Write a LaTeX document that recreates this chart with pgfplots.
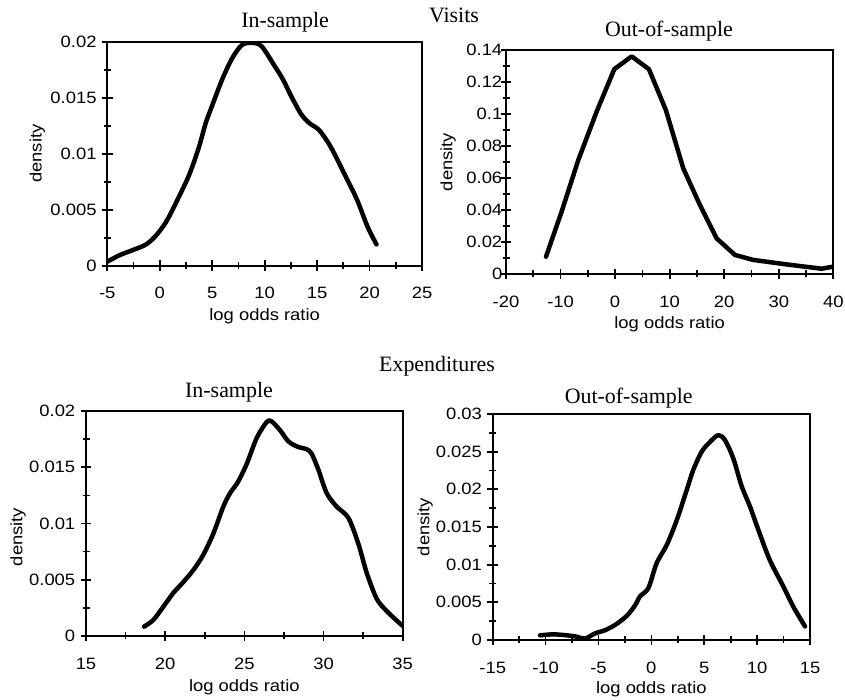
\documentclass[border=0pt]{standalone}
\usepackage{fontspec}
\setmainfont{Liberation Serif}
\newfontfamily\labelfont[FakeStretch=1.12]{Liberation Sans}
\usepackage{pgfplots}
\pgfplotsset{compat=1.18}

\pgfplotsset{
  densitypanel/.style={
    scale only axis,
    anchor=south west,
    axis line style={line width=1.7bp},
    every tick/.style={black, line width=1.7bp},
    tick align=center,
    xtick pos=bottom, ytick pos=left,
    major tick length=10.5bp, minor tick length=7bp,
    minor x tick num=1, minor y tick num=1,
    scaled y ticks=false, scaled x ticks=false,
    ticklabel style={font=\labelfont\fontsize{16.5}{19}\selectfont},
    label style={font=\labelfont\fontsize{16.5}{19}\selectfont},
    title style={font=\fontsize{22}{26}\selectfont, anchor=base, yshift=-6bp},
    xticklabel style={anchor=base, yshift=-28bp},
    yticklabel style={anchor=east, xshift=-2bp},
    xlabel={log odds ratio}, ylabel={density},
  },
  curve/.style={black, line width=4.5bp, mark=none, line join=round, line cap=round},
}

\begin{document}
\begin{tikzpicture}[x=1bp,y=1bp]
\path[use as bounding box] (0,0) rectangle (845,700);

% Visits, in-sample
\begin{axis}[densitypanel,
  at={(107.3bp,434.3bp)}, width=314.7bp, height=224bp,
  xmin=-5, xmax=25, ymin=0, ymax=0.02,
  xtick={-5,0,5,10,15,20,25}, xticklabels={-5,0,5,10,15,20,25},
  ytick={0,0.005,0.01,0.015,0.02}, yticklabels={0,0.005,0.01,0.015,0.02},
  title={In-sample}, title style={at={(axis description cs:0.565,1.0656)}},
  xlabel style={at={(axis description cs:0.5,-0.225)}, anchor=center},
  ylabel style={at={(axis description cs:-0.222,0.5)}, anchor=center},
]
\addplot[curve, smooth] coordinates {
(-5,0.00036) (-3.8,0.00095) (-2.55,0.0014) (-1.3,0.0019) (-0.35,0.0027)
(0.6,0.0039) (1.54,0.0056) (2.8,0.0081) (3.74,0.0106) (4.37,0.0127)
(5,0.0143) (5.94,0.0166) (6.89,0.0185) (7.83,0.0197) (8.77,0.0199)
(9.7,0.0196) (10.97,0.0178) (11.76,0.0166) (12.55,0.0151) (13.5,0.0135)
(14.3,0.0127) (15.2,0.0121) (16.3,0.0106) (17.6,0.0082) (18.8,0.0059)
(19.8,0.0035) (20.66,0.0019)
};
\end{axis}

% Visits, out-of-sample
\begin{axis}[densitypanel,
  at={(506bp,426bp)}, width=327.3bp, height=224bp,
  xmin=-20, xmax=40, ymin=0, ymax=0.14,
  xtick={-20,-10,0,10,20,30,40}, xticklabels={-20,-10,0,10,20,30,40},
  ytick={0,0.02,0.04,0.06,0.08,0.1,0.12,0.14},
  yticklabels={0,0.02,0.04,0.06,0.08,0.1,0.12,0.14},
  yticklabel style={xshift=7bp},
  title={Out-of-sample}, title style={at={(axis description cs:0.498,1.0625)}},
  xlabel style={at={(axis description cs:0.5,-0.223)}, anchor=center},
  ylabel style={at={(axis description cs:-0.177,0.5)}, anchor=center},
]
\addplot[curve] coordinates {
(-12.67,0.0108) (-9.8,0.039) (-6.74,0.0713) (-3.38,0.1015) (-0.15,0.128)
(3.03,0.136) (6.2,0.128) (9.3,0.1025) (12.5,0.066) (15.55,0.0431)
(18.6,0.0223) (21.97,0.0119) (25.3,0.0088) (31.4,0.006) (37.85,0.0033)
(40,0.0046)
};
\end{axis}

% Expenditures, in-sample
\begin{axis}[densitypanel,
  at={(86bp,64bp)}, width=316.7bp, height=225bp,
  xmin=15, xmax=35, ymin=0, ymax=0.02,
  xtick={15,20,25,30,35}, xticklabels={15,20,25,30,35},
  ytick={0,0.005,0.01,0.015,0.02}, yticklabels={0,0.005,0.01,0.015,0.02},
  title={In-sample}, title style={at={(axis description cs:0.4515,1.061)}},
  xlabel style={at={(axis description cs:0.5,-0.226)}, anchor=center},
  ylabel style={at={(axis description cs:-0.214,0.44)}, anchor=center},
]
\addplot[curve, smooth] coordinates {
(18.66,0.00083) (19.25,0.00142) (19.88,0.0026) (20.5,0.0038) (21.15,0.0048)
(21.8,0.0059) (22.4,0.0072) (23.04,0.0091) (23.67,0.0115) (24.1,0.0127)
(24.6,0.0137) (25.15,0.0153) (25.78,0.0176) (26.4,0.019) (26.7,0.0191)
(27.25,0.0183) (27.78,0.0173) (28.4,0.0168) (28.94,0.0166) (29.25,0.0162)
(29.67,0.0148) (30.2,0.0127) (30.83,0.0115) (31.57,0.0105) (32.2,0.0082)
(32.73,0.0056) (33.36,0.0033) (34,0.0022) (34.6,0.0014) (35,0.0009)
};
\end{axis}

% Expenditures, out-of-sample
\begin{axis}[densitypanel,
  at={(492.7bp,60bp)}, width=317.3bp, height=226bp,
  xmin=-15, xmax=15, ymin=0, ymax=0.03,
  xtick={-15,-10,-5,0,5,10,15}, xticklabels={-15,-10,-5,0,5,10,15},
  ytick={0,0.005,0.01,0.015,0.02,0.025,0.03},
  yticklabels={0,0.005,0.01,0.015,0.02,0.025,0.03},
  title={Out-of-sample}, title style={at={(axis description cs:0.4286,1.047)}},
  xlabel style={at={(axis description cs:0.5,-0.219)}, anchor=center},
  ylabel style={at={(axis description cs:-0.213,0.5)}, anchor=center},
]
\addplot[curve, smooth] coordinates {
(-10.52,0.00062) (-9.26,0.00075) (-8,0.00062) (-7.06,0.00044) (-6.27,0.00018)
(-5.32,0.00088) (-4.38,0.0013) (-3.43,0.002) (-2.33,0.0032) (-1.54,0.0046)
(-1.07,0.0058) (-0.28,0.0069) (0.5,0.0102) (1.45,0.0126) (2.4,0.0159)
(3.34,0.0199) (3.97,0.0226) (4.76,0.025) (5.55,0.0263) (6.34,0.0272)
(6.97,0.0265) (7.75,0.0241) (8.54,0.0204) (9.33,0.0177) (10.12,0.0146)
(11.2,0.0106) (12.48,0.0071) (13.43,0.0044) (14.53,0.0018)
};
\end{axis}

\node[anchor=base, font=\fontsize{22}{26}\selectfont] at (454,677) {Visits};
\node[anchor=base, font=\fontsize{22}{26}\selectfont] at (437,328) {Expenditures};
\end{tikzpicture}
\end{document}
